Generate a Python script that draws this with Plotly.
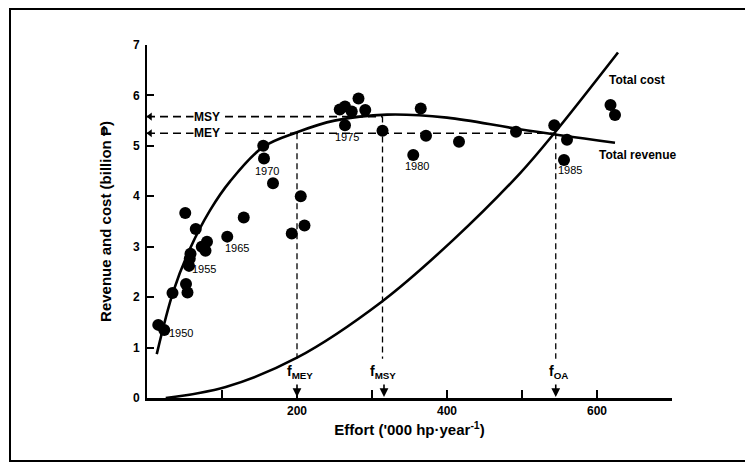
import plotly.graph_objects as go

# ---- data ----
effort_pts = [15, 23, 34, 51, 52, 54, 56, 57, 58, 65, 73, 78, 80, 107, 129,
              155, 156, 168, 193, 205, 210, 257, 264, 264, 273, 282, 291, 314,
              355, 365, 372, 416, 492, 543, 556, 560, 618, 624]
value_pts = [1.45, 1.35, 2.08, 3.67, 2.26, 2.09, 2.62, 2.76, 2.86, 3.35, 3.0, 2.92, 3.1, 3.2, 3.58,
             5.0, 4.75, 4.26, 3.26, 4.0, 3.42, 5.72, 5.78, 5.41, 5.68, 5.94, 5.71, 5.30,
             4.82, 5.74, 5.2, 5.08, 5.28, 5.41, 4.72, 5.12, 5.81, 5.61]

rev_x = [13, 35, 57, 84, 111, 155, 200, 250, 320, 400, 497, 624]
rev_y = [0.87, 2.11, 2.95, 3.72, 4.3, 4.98, 5.27, 5.5, 5.62, 5.56, 5.33, 5.06]

cost_x = [25, 105, 200, 313, 408, 497, 543, 628]
cost_y = [0.0, 0.22, 0.8, 1.91, 3.13, 4.45, 5.25, 6.85]

msy_level = 5.58
mey_level = 5.25
f_mey = 200
f_msy = 314
f_oa = 545

year_labels = ["1950", "1955", "1965", "1970", "1975", "1980", "1985"]
year_x = [45, 76, 120, 160, 267, 360, 564]
year_y = [1.29, 2.55, 2.97, 4.51, 5.17, 4.6, 4.52]

x_tickvals = [100, 200, 300, 400, 500, 600, 700]
x_ticktext = ["", "200", "", "400", "", "600", ""]
y_tickvals = [0, 1, 2, 3, 4, 5, 6, 7]

FONT = "Liberation Sans, Arial, sans-serif"

# page body has an 8px margin, so figure pixel = screen pixel - 8
OFF = 8
PL, PT, PR, PB = 147 - OFF, 45 - OFF, 672 - OFF, 398 - OFF
W, H = 753, 462
PW, PH = PR - PL, PB - PT


def px_x(sx):
    return (sx - OFF - PL) / PW


def px_y(sy):
    return (PB - (sy - OFF)) / PH


fig = go.Figure()

# dashed reference lines
fig.add_trace(go.Scatter(x=[0, f_msy], y=[msy_level, msy_level], mode="lines",
                         line=dict(color="black", width=1.6, dash="8px,5px"),
                         hoverinfo="skip", showlegend=False))
fig.add_trace(go.Scatter(x=[0, f_oa], y=[mey_level, mey_level], mode="lines",
                         line=dict(color="black", width=1.6, dash="8px,5px"),
                         hoverinfo="skip", showlegend=False))
for fx, top in [(f_mey, mey_level), (f_msy, msy_level), (f_oa, mey_level)]:
    fig.add_trace(go.Scatter(x=[fx, fx], y=[top, 0.78], mode="lines",
                             line=dict(color="black", width=1.3, dash="6px,4px"),
                             hoverinfo="skip", showlegend=False))

# curves
fig.add_trace(go.Scatter(x=rev_x, y=rev_y, mode="lines", line=dict(color="black", width=2.6, shape="spline"),
                         hoverinfo="skip", showlegend=False))
fig.add_trace(go.Scatter(x=cost_x, y=cost_y, mode="lines", line=dict(color="black", width=2.6, shape="spline"),
                         hoverinfo="skip", showlegend=False))

# data points
fig.add_trace(go.Scatter(x=effort_pts, y=value_pts, mode="markers",
                         marker=dict(color="black", size=12),
                         showlegend=False))

# left arrowheads on MSY / MEY lines
fig.add_trace(go.Scatter(x=[4, 4], y=[msy_level, mey_level], mode="markers",
                         marker=dict(symbol="triangle-left", color="black", size=7),
                         hoverinfo="skip", showlegend=False, cliponaxis=False))

ann = []
for t, yy in [("MSY", msy_level), ("MEY", mey_level)]:
    ann.append(dict(x=80, y=yy, text="<b>" + t + "</b>", showarrow=False,
                    font=dict(family=FONT, size=12, color="#000000"), bgcolor="white", borderpad=0))
for t, xx, yy in zip(year_labels, year_x, year_y):
    ann.append(dict(x=xx, y=yy, text=t, showarrow=False,
                    font=dict(family=FONT, size=11, color="#000000")))
ann.append(dict(x=613, y=6.3, text="<b>Total cost</b>", xanchor="left", showarrow=False,
                font=dict(family=FONT, size=12, color="#000000")))
ann.append(dict(x=600, y=4.82, text="<b>Total revenue</b>", xanchor="left", showarrow=False,
                font=dict(family=FONT, size=12, color="#000000")))
for t, xx in [("MEY", f_mey + 4), ("MSY", f_msy + 1), ("OA", f_oa + 4)]:
    ann.append(dict(x=xx, y=0.52, text="<b>f<sub>" + t + "</sub></b>", showarrow=False,
                    font=dict(family=FONT, size=14, color="#000000")))
for xx in [f_mey, f_msy + 2, f_oa]:
    ann.append(dict(x=xx, y=0.02, ax=0, ay=-14, text="", showarrow=True, arrowhead=2,
                    arrowsize=1.1, arrowwidth=1.6, arrowcolor="black", standoff=0,
                    axref="pixel", ayref="pixel"))

fig.update_layout(
    width=W, height=H,
    margin=dict(l=PL, r=W - PR, t=PT, b=H - PB),
    paper_bgcolor="white", plot_bgcolor="white",
    font=dict(family=FONT, color="black"),
    annotations=ann,
    shapes=[dict(type="rect", xref="paper", yref="paper",
                 x0=px_x(10), x1=px_x(770),
                 y0=px_y(461), y1=px_y(9),
                 line=dict(color="black", width=2))],
    xaxis=dict(range=[0, 700], showgrid=False, zeroline=False, showline=True,
               linecolor="black", linewidth=2.5, ticks="inside", ticklen=8, tickwidth=2,
               tickcolor="black", tickvals=x_tickvals, ticktext=x_ticktext,
               tickfont=dict(family=FONT, size=12, color="black", weight="bold"),
               title=dict(text="<b>Effort ('000 hp·year<sup>-1</sup>)</b>",
                          font=dict(family=FONT, size=15, color="black"), standoff=8)),
    yaxis=dict(range=[0, 7], showgrid=False, zeroline=False, showline=True,
               linecolor="black", linewidth=2, ticks="inside", ticklen=7, tickwidth=2,
               tickcolor="black", tickvals=y_tickvals, ticklabelstandoff=3,
               tickfont=dict(family=FONT, size=12, color="black", weight="bold"),
               title=dict(text="<b>Revenue and cost (billion ₱)</b>",
                          font=dict(family=FONT, size=15, color="black"), standoff=18)),
)

fig.write_html("out.html")
